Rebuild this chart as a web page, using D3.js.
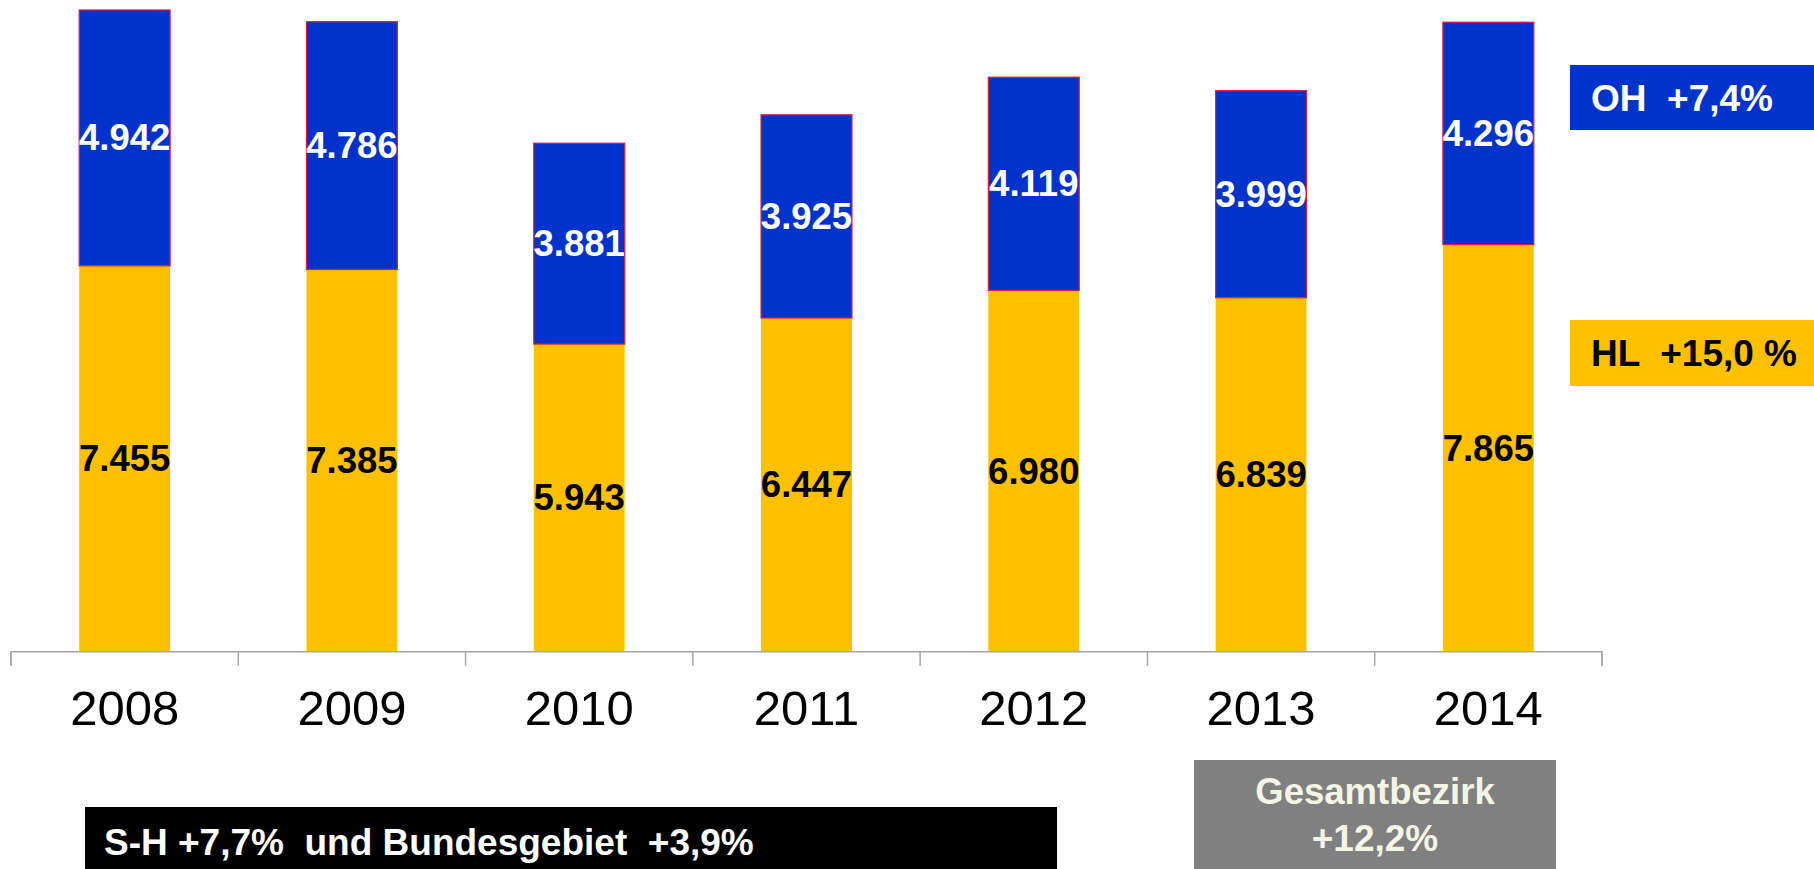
<!DOCTYPE html>
<html>
<head>
<meta charset="utf-8">
<script src="https://cdn.jsdelivr.net/npm/d3@7"></script>
<style>
  html, body { margin: 0; padding: 0; background: #fff; }
  svg { display: block; font-family: "Liberation Sans", Arial, sans-serif; }
  text { white-space: pre; }
</style>
</head>
<body>
<svg id="chart" width="1814" height="869"></svg>
<script>
const years = ["2008", "2009", "2010", "2011", "2012", "2013", "2014"];
const hlValues = [7455, 7385, 5943, 6447, 6980, 6839, 7865];
const ohValues = [4942, 4786, 3881, 3925, 4119, 3999, 4296];
const legendLabels = ["OH  +7,4%", "HL  +15,0 %"];
const noteLabel = "S-H +7,7%  und Bundesgebiet  +3,9%";
const totalLabel = ["Gesamtbezirk", "+12,2%"];

const fmt = v => d3.format(",")(v).replace(/,/g, ".");

const svg = d3.select("#chart");
const baseY = 651.7;

const x = d3.scaleBand().domain(years).range([11, 1602]).paddingInner(0).paddingOuter(0);
const y = d3.scaleLinear().domain([0, 12590]).range([baseY, 0]);
const bw = x.bandwidth() * 0.4;
const bx = d => x(d) + (x.bandwidth() - bw) / 2;

const data = years.map((yr, i) => ({ yr, hl: hlValues[i], oh: ohValues[i] }));

// HL (yellow) segments
svg.append("g").selectAll("rect").data(data).join("rect")
  .attr("x", d => bx(d.yr)).attr("width", bw)
  .attr("y", d => y(d.hl)).attr("height", d => y(0) - y(d.hl))
  .attr("fill", "#FFC000");

// OH (blue) segments
svg.append("g").selectAll("rect").data(data).join("rect")
  .attr("x", d => bx(d.yr)).attr("width", bw)
  .attr("y", d => y(d.hl + d.oh)).attr("height", d => y(d.hl) - y(d.hl + d.oh))
  .attr("fill", "#0033CC").attr("stroke", "#E8163C").attr("stroke-width", 1.2);

// value labels
svg.append("g").selectAll("text").data(data).join("text")
  .attr("x", d => bx(d.yr) + bw / 2)
  .attr("y", d => (y(d.hl) + y(0)) / 2)
  .attr("text-anchor", "middle").attr("dominant-baseline", "central")
  .attr("font-size", 36.5).attr("font-weight", "bold").attr("fill", "#000")
  .text(d => fmt(d.hl));
svg.append("g").selectAll("text").data(data).join("text")
  .attr("x", d => bx(d.yr) + bw / 2)
  .attr("y", d => (y(d.hl) + y(d.hl + d.oh)) / 2)
  .attr("text-anchor", "middle").attr("dominant-baseline", "central")
  .attr("font-size", 36.5).attr("font-weight", "bold").attr("fill", "#fff")
  .text(d => fmt(d.oh));

// x axis
const axis = svg.append("g").attr("transform", `translate(0,${baseY})`)
  .call(d3.axisBottom(x).tickSize(0).tickPadding(0));
axis.select(".domain").attr("stroke", "#A6A6A6").attr("stroke-width", 1.5)
  .attr("d", `M11,14V0H1602V14`);
axis.selectAll(".tick text").remove();
const bounds = years.map(yv => x(yv)).concat([x(years[years.length - 1]) + x.bandwidth()]);
axis.append("g").selectAll("line").data(bounds).join("line")
  .attr("x1", d => d).attr("x2", d => d).attr("y1", 0).attr("y2", 14)
  .attr("stroke", "#A6A6A6").attr("stroke-width", 1.5);
svg.append("g").selectAll("text").data(years).join("text")
  .attr("x", d => x(d) + x.bandwidth() / 2).attr("y", 725)
  .attr("text-anchor", "middle").attr("font-size", 49).attr("fill", "#000")
  .text(d => d);

// legend boxes
svg.append("rect").attr("x", 1570).attr("y", 65).attr("width", 244).attr("height", 65).attr("fill", "#0033CC");
svg.append("text").attr("x", 1591).attr("y", 111).attr("font-size", 37).attr("font-weight", "bold")
  .attr("fill", "#fff").text(legendLabels[0]);
svg.append("rect").attr("x", 1570).attr("y", 320).attr("width", 244).attr("height", 66).attr("fill", "#FFC000");
svg.append("text").attr("x", 1591).attr("y", 366).attr("font-size", 37).attr("font-weight", "bold")
  .attr("fill", "#000").text(legendLabels[1]);

// bottom note
svg.append("rect").attr("x", 85).attr("y", 807).attr("width", 972).attr("height", 62).attr("fill", "#000");
svg.append("text").attr("x", 104).attr("y", 855).attr("font-size", 37).attr("font-weight", "bold")
  .attr("fill", "#fff").text(noteLabel);

// gray total box
svg.append("rect").attr("x", 1194).attr("y", 760).attr("width", 362).attr("height", 109).attr("fill", "#808080");
svg.append("text").attr("x", 1375).attr("y", 804).attr("text-anchor", "middle").attr("font-size", 36.5)
  .attr("font-weight", "bold").attr("fill", "#F5F5E6").text(totalLabel[0]);
svg.append("text").attr("x", 1375).attr("y", 851).attr("text-anchor", "middle").attr("font-size", 37)
  .attr("font-weight", "bold").attr("fill", "#F5F5E6").text(totalLabel[1]);
</script>
</body>
</html>
